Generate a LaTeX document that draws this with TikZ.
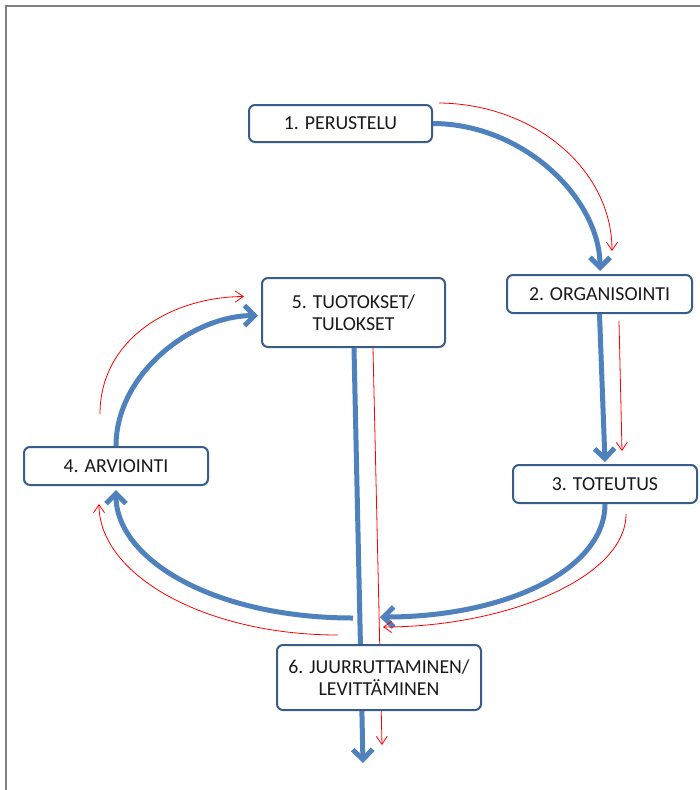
\documentclass[tikz,border=0pt]{standalone}
\usepackage{fontspec}
\setmainfont{Carlito}
\usetikzlibrary{arrows.meta,calc}
\definecolor{boxline}{RGB}{56,93,138}
\definecolor{flowblue}{RGB}{79,129,189}
\definecolor{framegray}{RGB}{128,128,128}
\begin{document}
\begin{tikzpicture}[x=1pt,y=-1pt,
  stage/.style={draw=boxline, line width=2pt, rounded corners=6pt, fill=white, inner sep=0pt, align=center, font=\fontsize{19.8}{22}\selectfont, text=black!90},
  flow/.style={draw=flowblue, line width=5pt, -{Straight Barb[length=10pt,width=20pt]}},
  trace/.style={draw=red, line width=0.8pt, -{Straight Barb[length=8pt,width=11pt]}}]
\useasboundingbox (0,0) rectangle (700,790);
\draw[framegray, line width=1.6pt] (700,6) -- (6,6) -- (6,790);

\node[stage, minimum width=183pt, minimum height=37pt] (b1) at (340.5,123.5) {1. PERUSTELU};
\node[stage, minimum width=185pt, minimum height=38pt] (b2) at (599.5,294) {2. ORGANISOINTI};
\node[stage, minimum width=184pt, minimum height=38pt] (b3) at (605,484) {3. TOTEUTUS};
\node[stage, minimum width=184pt, minimum height=38pt] (b4) at (116,466) {4. ARVIOINTI};
\node[stage, minimum width=183pt, minimum height=69pt] (b5) at (353.5,312.5) {5. TUOTOKSET/\\TULOKSET};

% 5 -> 6 -> onward (passes behind box 6)
\coordinate (out6) at (363,763);
\coordinate (rout6) at (382,745);
\draw[flow] ($(b5.south)+(0.5,0)$) -- (out6);
\draw[trace] ($(b5.south)+(19.5,0)$) -- (rout6);

\node[stage, minimum width=204pt, minimum height=65pt] (b6) at (379,677.5) {6. JUURRUTTAMINEN/\\LEVITTÄMINEN};

% 1 -> 2
\draw[flow] (b1.east) .. controls (525,124) and (600,200) .. ($(b2.north)+(0.5,-3)$);
\draw[trace] ($(b1.north east)+(6,-1)$) .. controls (535,104) and (612,170) .. ($(b2.north)+(12.5,-23)$);

% 2 -> 3
\draw[flow] (b2.south) -- ($(b3.north)+(0,-2)$);
\draw[trace] ($(b2.south)+(19.5,7)$) -- ($(b3.north)+(17,-13)$);

% 3 -> 6
\coordinate (t36) at (380,617);
\coordinate (rt36) at (383,627);
\draw[flow] (b3.south) .. controls (605,570) and (505,617) .. (t36);
\draw[trace] ($(b3.south)+(21,10)$) .. controls (626,578) and (505,627) .. (rt36);

% 6 -> 4
\coordinate (s64) at (353,618);
\coordinate (rs64) at (338,635);
\draw[flow] (s64) .. controls (215,618) and (116,560) .. ($(b4.south)+(0,4)$);
\draw[trace] (rs64) .. controls (205,635) and (99,575) .. ($(b4.south)+(-17,18)$);

% 4 -> 5
\draw[flow] (b4.north) .. controls (116,375) and (190,316) .. ($(b5.west)+(-3,3)$);
\draw[trace] ($(b4.north)+(-16,-32)$) .. controls (100,340) and (170,297) .. ($(b5.west)+(-17,-16)$);
\end{tikzpicture}
\end{document}
